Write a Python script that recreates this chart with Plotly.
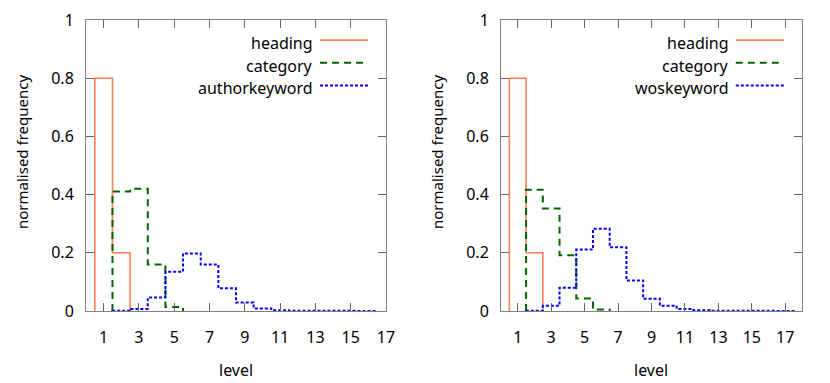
import plotly.graph_objects as go

# levels and normalised frequencies
heading_levels = [1, 2]
heading_vals = [0.80, 0.20]

cat_levels_a = [2, 3, 4, 5]
cat_vals_a = [0.411, 0.420, 0.160, 0.014]

author_levels = list(range(2, 17))
author_vals = [0.001, 0.007, 0.046, 0.135, 0.198, 0.160, 0.078, 0.029,
               0.009, 0.003, 0.001, 0.001, 0.0005, 0.0003, 0.0002]

cat_levels_b = [2, 3, 4, 5, 6]
cat_vals_b = [0.417, 0.352, 0.192, 0.043, 0.005]

wos_levels = list(range(2, 18))
wos_vals = [0.001, 0.018, 0.080, 0.211, 0.283, 0.219, 0.105, 0.042,
            0.018, 0.007, 0.003, 0.001, 0.001, 0.0005, 0.0003, 0.0002]

y_ticks = [0, 0.2, 0.4, 0.6, 0.8, 1]
y_ticktext = ["0", "0.2", "0.4", "0.6", "0.8", "1"]

FONT = "Noto Sans"
FS = 16
BORDER = "#808080"
styles = {
    "heading": dict(color="#ff7f50", width=1.6, dash="solid"),
    "category": dict(color="#006400", width=2, dash="7px,5px"),
    "keyword": dict(color="#0000ff", width=2, dash="3px,2px"),
}

# plot area in pixels: top 20, bottom 311 -> 291 px high
PLOT_H = 291.0


def histeps(levels, vals):
    # gnuplot style histeps: steps centred on each level, closed to zero at the ends
    xs = [levels[0] - 0.5]
    ys = [0]
    for l, v in zip(levels, vals):
        xs += [l - 0.5, l + 0.5]
        ys += [v, v]
    xs.append(levels[-1] + 0.5)
    ys.append(0)
    return xs, ys


fig = go.Figure()

panels = [
    ("x", "y", [("heading", heading_levels, heading_vals, "heading"),
                ("category", cat_levels_a, cat_vals_a, "category"),
                ("authorkeyword", author_levels, author_vals, "keyword")]),
    ("x2", "y2", [("heading", heading_levels, heading_vals, "heading"),
                  ("category", cat_levels_b, cat_vals_b, "category"),
                  ("woskeyword", wos_levels, wos_vals, "keyword")]),
]

legend_rows = [0.931, 0.853, 0.775]
shapes = []
annotations = []

for xa, ya, series in panels:
    for i, (name, lv, vals, st) in enumerate(series):
        xs, ys = histeps(lv, vals)
        fig.add_trace(go.Scatter(x=xs, y=ys, mode="lines", name=name,
                                 line=styles[st], xaxis=xa, yaxis=ya,
                                 showlegend=False, hoverinfo="skip"))
        xd = xa + " domain"
        yd = ya + " domain"
        shapes.append(dict(type="line", xref=xd, yref=yd,
                           x0=0.78, x1=0.94, y0=legend_rows[i], y1=legend_rows[i],
                           line=styles[st]))
        annotations.append(dict(text=name, xref=xd, yref=yd, x=0.763,
                                y=legend_rows[i] - 0.01, xanchor="right",
                                yanchor="middle", showarrow=False,
                                font=dict(family=FONT, size=FS, color="#000")))

# axis titles (paper coords: y=0 is the bottom of the plot area)
for xc, yt_x in [(236 / 830, 22 / 830), (651 / 830, 437 / 830)]:
    annotations.append(dict(text="level", xref="paper", yref="paper",
                            x=xc, y=(311 - 370) / PLOT_H, xanchor="center",
                            yanchor="middle", showarrow=False,
                            font=dict(family=FONT, size=FS, color="#000")))
    annotations.append(dict(text="normalised frequency", xref="paper",
                            yref="paper", x=yt_x, y=(311 - 152) / PLOT_H,
                            textangle=-90, xanchor="center", yanchor="middle",
                            showarrow=False,
                            font=dict(family=FONT, size=15, color="#000")))

axis_common = dict(showline=True, linecolor=BORDER, linewidth=1, mirror="ticks",
                   ticks="inside", ticklen=8, tickcolor="#666666", tickwidth=1,
                   showgrid=False, zeroline=False, automargin=False,
                   tickfont=dict(family=FONT, size=FS, color="#000"))

fig.update_layout(
    width=830, height=383,
    margin=dict(l=0, r=0, t=20, b=72, autoexpand=False),
    plot_bgcolor="white", paper_bgcolor="white",
    xaxis=dict(domain=[86 / 830, 386 / 830], range=[0, 17], tick0=1, dtick=2,
               ticklabelstandoff=12, anchor="y", **axis_common),
    yaxis=dict(domain=[0, 1], range=[0, 1], tickvals=y_ticks,
               ticktext=y_ticktext, ticklabelstandoff=8, anchor="x",
               **axis_common),
    xaxis2=dict(domain=[501 / 830, 802 / 830], range=[0, 18], tick0=1, dtick=2,
                ticklabelstandoff=12, anchor="y2", **axis_common),
    yaxis2=dict(domain=[0, 1], range=[0, 1], tickvals=y_ticks,
                ticktext=y_ticktext, ticklabelstandoff=8, anchor="x2",
                **axis_common),
    shapes=shapes,
    annotations=annotations,
)

# drop the default page margin so the figure sits at the window's corner
fig.write_html("out.html", config={"displayModeBar": False},
               post_script="document.body.style.margin='0';")
